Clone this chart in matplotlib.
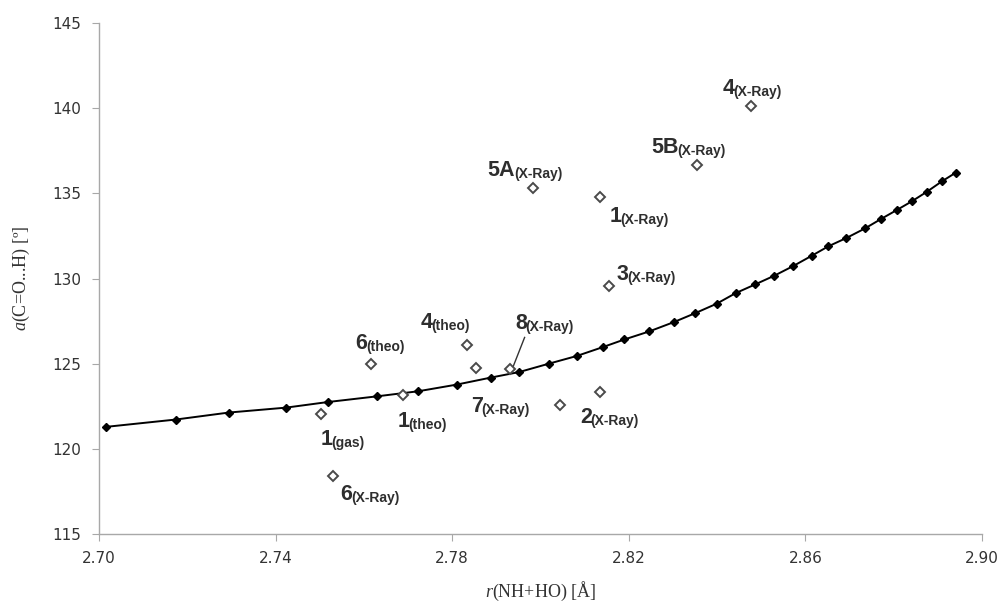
import matplotlib
matplotlib.use("Agg")
import matplotlib.pyplot as plt

plt.rcParams["mathtext.fontset"] = "custom"
plt.rcParams["mathtext.rm"] = "Liberation Serif"
plt.rcParams["mathtext.it"] = "Liberation Serif:italic"

# fitted curve (black diamonds joined by a line)
curve_x = [2.7016, 2.7174, 2.7294, 2.7424, 2.7519, 2.7629, 2.7723, 2.7810,
           2.7887, 2.7952, 2.8019, 2.8082, 2.8141, 2.8190, 2.8246, 2.8302,
           2.8350, 2.8399, 2.8442, 2.8486, 2.8530, 2.8573, 2.8614, 2.8652,
           2.8693, 2.8735, 2.8771, 2.8807, 2.8841, 2.8875, 2.8909, 2.8941]
curve_y = [121.29, 121.72, 122.13, 122.42, 122.75, 123.08, 123.38, 123.77,
           124.18, 124.51, 125.00, 125.45, 125.97, 126.42, 126.89, 127.44,
           127.96, 128.52, 129.14, 129.65, 130.17, 130.74, 131.33, 131.89,
           132.38, 132.94, 133.49, 134.02, 134.53, 135.09, 135.70, 136.22]

# individual structures (open diamonds)
pts_x = [2.7615, 2.7502, 2.7688, 2.7531, 2.7833, 2.7854, 2.7932,
         2.8044, 2.8135, 2.7984, 2.8135, 2.8355, 2.8477, 2.8156]
pts_y = [124.96, 122.03, 123.18, 118.40, 126.11, 124.77, 124.67,
         122.60, 123.34, 135.31, 134.80, 136.68, 140.13, 129.57]

# labels: main text, subscript, anchor (left, baseline)
lab_main = ["4", "5B", "5A", "1", "3", "4", "8", "7", "1", "2", "6", "1", "6"]
lab_sub = ["(X-Ray)", "(X-Ray)", "(X-Ray)", "(X-Ray)", "(X-Ray)", "(theo)",
           "(X-Ray)", "(X-Ray)", "(theo)", "(X-Ray)", "(theo)", "(gas)", "(X-Ray)"]
lab_x = [2.8413, 2.8250, 2.7880, 2.8156, 2.8173, 2.7729, 2.7942,
         2.7842, 2.7676, 2.8089, 2.7580, 2.7502, 2.7546]
lab_y = [140.83, 137.34, 136.03, 133.30, 129.92, 127.11, 127.05,
         122.16, 121.29, 121.49, 125.84, 120.21, 116.99]

# leader line for 8(X-Ray)
lead_x = [2.7964, 2.7937]
lead_y = [126.54, 124.76]

x_ticks = [2.70, 2.74, 2.78, 2.82, 2.86, 2.90]
y_ticks = [115, 120, 125, 130, 135, 140, 145]

fig = plt.figure(figsize=(10.03, 6.14), dpi=100)
ax = fig.add_axes([99/1003, 1-534/614, (982-99)/1003, (534-23)/614])

ax.plot(curve_x, curve_y, color="black", lw=1.4, marker="D", ms=4.5,
        mfc="black", mec="black", zorder=3)
ax.plot(pts_x, pts_y, linestyle="none", marker="D", ms=5.5, mfc="white",
        mec="#4a4a4a", mew=1.4, zorder=4)
ax.plot(lead_x, lead_y, color="#333333", lw=1.0, zorder=2)

txtcol = "#2e2e2e"
for m, s, x, y in zip(lab_main, lab_sub, lab_x, lab_y):
    t = ax.text(x, y, m, fontsize=15.5, fontweight="bold", family="Liberation Sans",
                color=txtcol, ha="left", va="baseline", zorder=5)
    ax.annotate(s, xy=(1, 0), xycoords=t, xytext=(-0.8, 0), textcoords="offset points",
                fontsize=10, fontweight="bold", family="Liberation Sans",
                color=txtcol, ha="left", va="bottom", zorder=5)

ax.set_xlim(2.70, 2.90)
ax.set_ylim(115, 145)
ax.set_xticks(x_ticks)
ax.set_xticklabels([f"{v:.2f}" for v in x_ticks])
ax.set_yticks(y_ticks)

for side in ("top", "right"):
    ax.spines[side].set_visible(False)
for side in ("left", "bottom"):
    ax.spines[side].set_color("#a8a8a8")
    ax.spines[side].set_linewidth(1.0)
ax.tick_params(axis="both", direction="out", length=5, color="#a8a8a8",
               labelcolor="#333333", labelsize=11)
ax.tick_params(axis="x", pad=7)
ax.tick_params(axis="y", pad=8)

ax.set_xlabel(r"$\mathit{r}$(NH+HO) [Å]", family="Liberation Serif", fontsize=13,
              color="#333333", labelpad=10)
ax.set_ylabel(r"$\mathit{a}$(C=O...H) [º]", family="Liberation Serif", fontsize=13,
              color="#333333", labelpad=14)

fig.savefig("out.png", dpi=100)
